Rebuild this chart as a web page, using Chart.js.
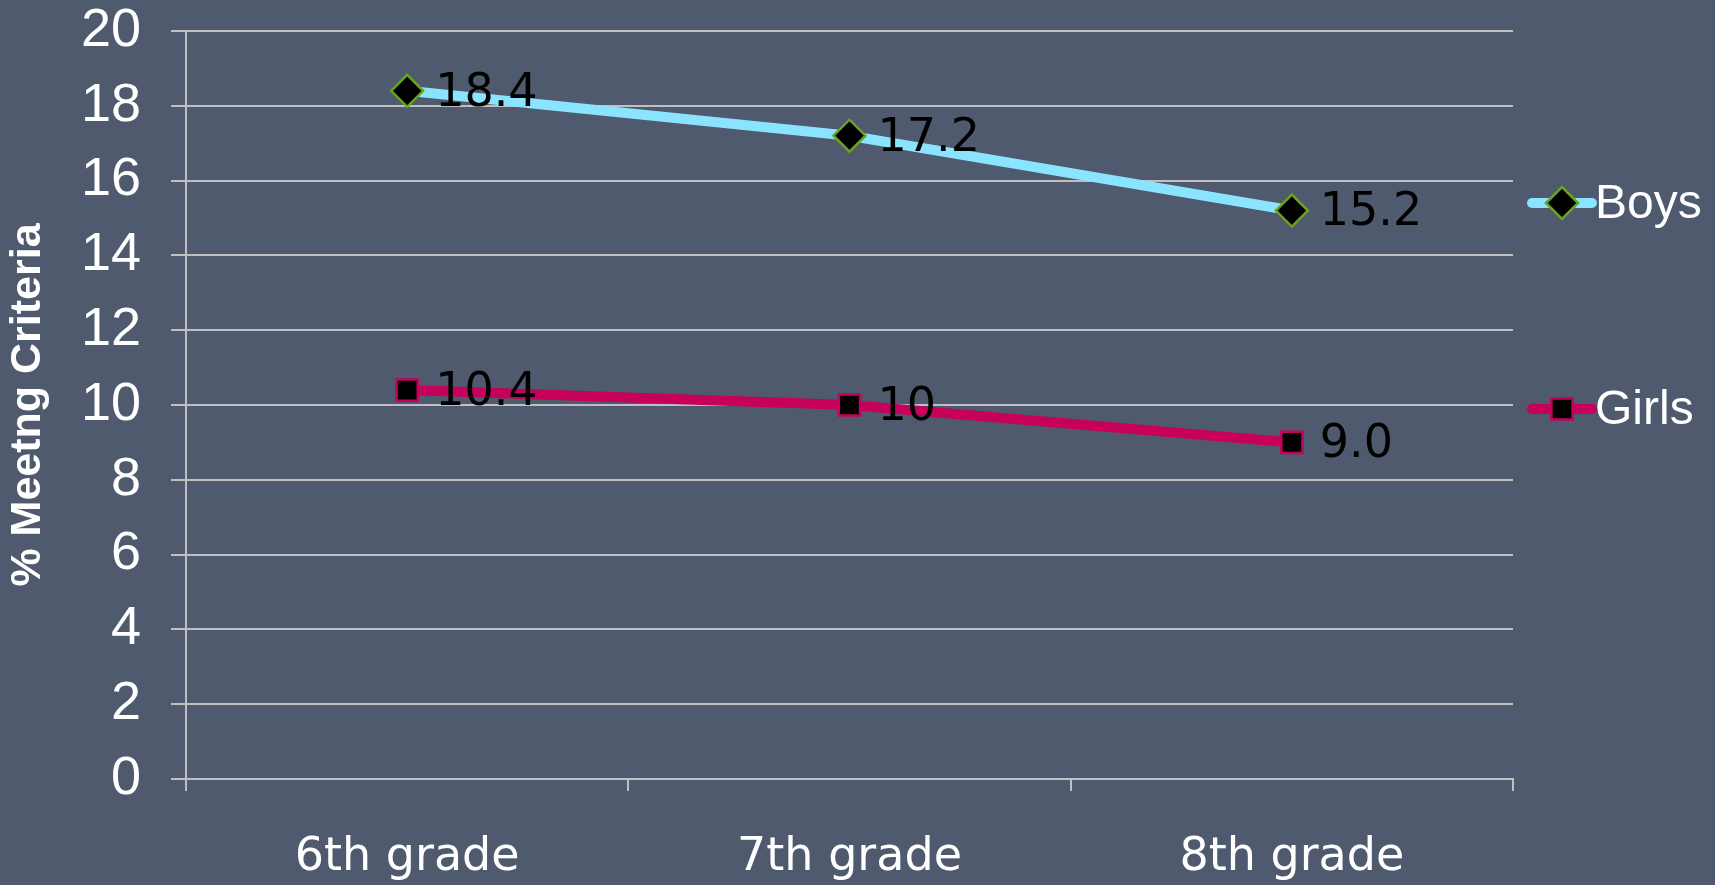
<!DOCTYPE html>
<html>
<head>
<meta charset="utf-8">
<script src="https://cdn.jsdelivr.net/npm/chart.js@4/dist/chart.umd.min.js"></script>
<style>
  html, body { margin: 0; padding: 0; background: #4F5A6E; }
  #wrap { width: 1715px; height: 885px; }
</style>
</head>
<body>
<div id="wrap"><canvas id="chart"></canvas></div>
<script>
// data
const grades = ["6th grade", "7th grade", "8th grade"];
const boys = [18.4, 17.2, 15.2];
const girls = [10.4, 10, 9.0];
const boysText = ["18.4", "17.2", "15.2"];
const girlsText = ["10.4", "10", "9.0"];

const BG = "#4F5A6E";
const GRID = "#BFBFBF";
const BOYS_LINE = "#8AE4FF";
const GIRLS_LINE = "#C6005B";
const BOYS_EDGE = "#6AA121";

// paint the slide background
const bgPlugin = {
    id: "bg",
    beforeDraw(chart) {
        const ctx = chart.ctx;
        ctx.save();
        ctx.fillStyle = BG;
        ctx.fillRect(0, 0, chart.width, chart.height);
        ctx.restore();
    }
};

// value labels to the right of each point
const valueLabels = {
    id: "valueLabels",
    afterDatasetsDraw(chart) {
        const ctx = chart.ctx;
        const texts = [boysText, girlsText];
        ctx.save();
        ctx.font = "46px 'DejaVu Sans'";
        ctx.fillStyle = "#000";
        ctx.textAlign = "left";
        ctx.textBaseline = "middle";
        chart.data.datasets.forEach((ds, i) => {
            chart.getDatasetMeta(i).data.forEach((pt, j) => {
                ctx.fillText(texts[i][j], pt.x + 28, pt.y + 3);
            });
        });
        ctx.restore();
    }
};

// legend: short line with the marker on it, then the name
const sideLegend = {
    id: "sideLegend",
    afterDraw(chart) {
        const ctx = chart.ctx;
        const area = chart.chartArea;
        const rows = [area.top + 172, area.top + 378];
        ctx.save();
        chart.data.datasets.forEach((ds, i) => {
            const y = rows[i];
            const x0 = area.right + 19;
            ctx.strokeStyle = ds.borderColor;
            ctx.lineWidth = 10;
            ctx.lineCap = "round";
            ctx.beginPath();
            ctx.moveTo(x0, y);
            ctx.lineTo(x0 + 60, y);
            ctx.stroke();
            ctx.fillStyle = ds.pointBackgroundColor;
            ctx.strokeStyle = ds.pointBorderColor;
            ctx.lineWidth = ds.pointBorderWidth;
            Chart.helpers.drawPoint(ctx, {
                pointStyle: ds.pointStyle, radius: ds.pointRadius, rotation: 0, borderWidth: ds.pointBorderWidth
            }, x0 + 30, y);
            ctx.font = "48px 'Liberation Sans'";
            ctx.fillStyle = "#fff";
            ctx.textAlign = "left";
            ctx.textBaseline = "middle";
            ctx.fillText(ds.label, x0 + 63, y + 2);
        });
        ctx.restore();
    }
};

new Chart(document.getElementById("chart"), {
    type: "line",
    data: {
        labels: grades,
        datasets: [{
            label: "Boys", data: boys,
            borderColor: BOYS_LINE, borderWidth: 10,
            pointStyle: "rectRot", pointRadius: 16, pointBorderWidth: 2.5,
            pointBackgroundColor: "#000", pointBorderColor: BOYS_EDGE,
            tension: 0, fill: false,
        }, {
            label: "Girls", data: girls,
            borderColor: GIRLS_LINE, borderWidth: 10,
            pointStyle: "rect", pointRadius: 15, pointBorderWidth: 2.5,
            pointBackgroundColor: "#000", pointBorderColor: GIRLS_LINE,
            tension: 0, fill: false,
        }],
    },
    options: {
        responsive: true,
        maintainAspectRatio: false,
        animation: false,
        layout: { autoPadding: false, padding: { top: 0, right: 202, left: 0, bottom: 0 } },
        plugins: { legend: { display: false }, tooltip: { enabled: false } },
        scales: {
            x: {
                type: "category", offset: true,
                grid: { offset: true, drawOnChartArea: false, drawTicks: true, tickLength: 12, color: GRID, lineWidth: 2 },
                border: { color: GRID, width: 2 },
                ticks: { color: "#fff", font: { family: "'DejaVu Sans'", size: 46 }, padding: 39, maxRotation: 0 },
                afterFit: (scale) => { scale.height = 106; },
            },
            y: {
                min: 0, max: 20,
                grid: { color: GRID, lineWidth: 2, tickLength: 15 },
                border: { color: GRID, width: 2 },
                ticks: { stepSize: 2, color: "#fff", font: { family: "'Liberation Sans'", size: 54 }, padding: 30 },
                title: {
                    display: true, text: "% Meetng Criteria", color: "#fff",
                    font: { family: "'Liberation Sans'", size: 43, weight: "bold" },
                    padding: { top: 2, bottom: 0 },
                },
                afterFit: (scale) => {
                    scale.width = 186;
                    // keep the top of the plot where the slide has it
                    scale.paddingTop = 31;
                    scale.paddingBottom = 0;
                },
            },
        },
    },
    plugins: [bgPlugin, valueLabels, sideLegend],
});
</script>
</body>
</html>
